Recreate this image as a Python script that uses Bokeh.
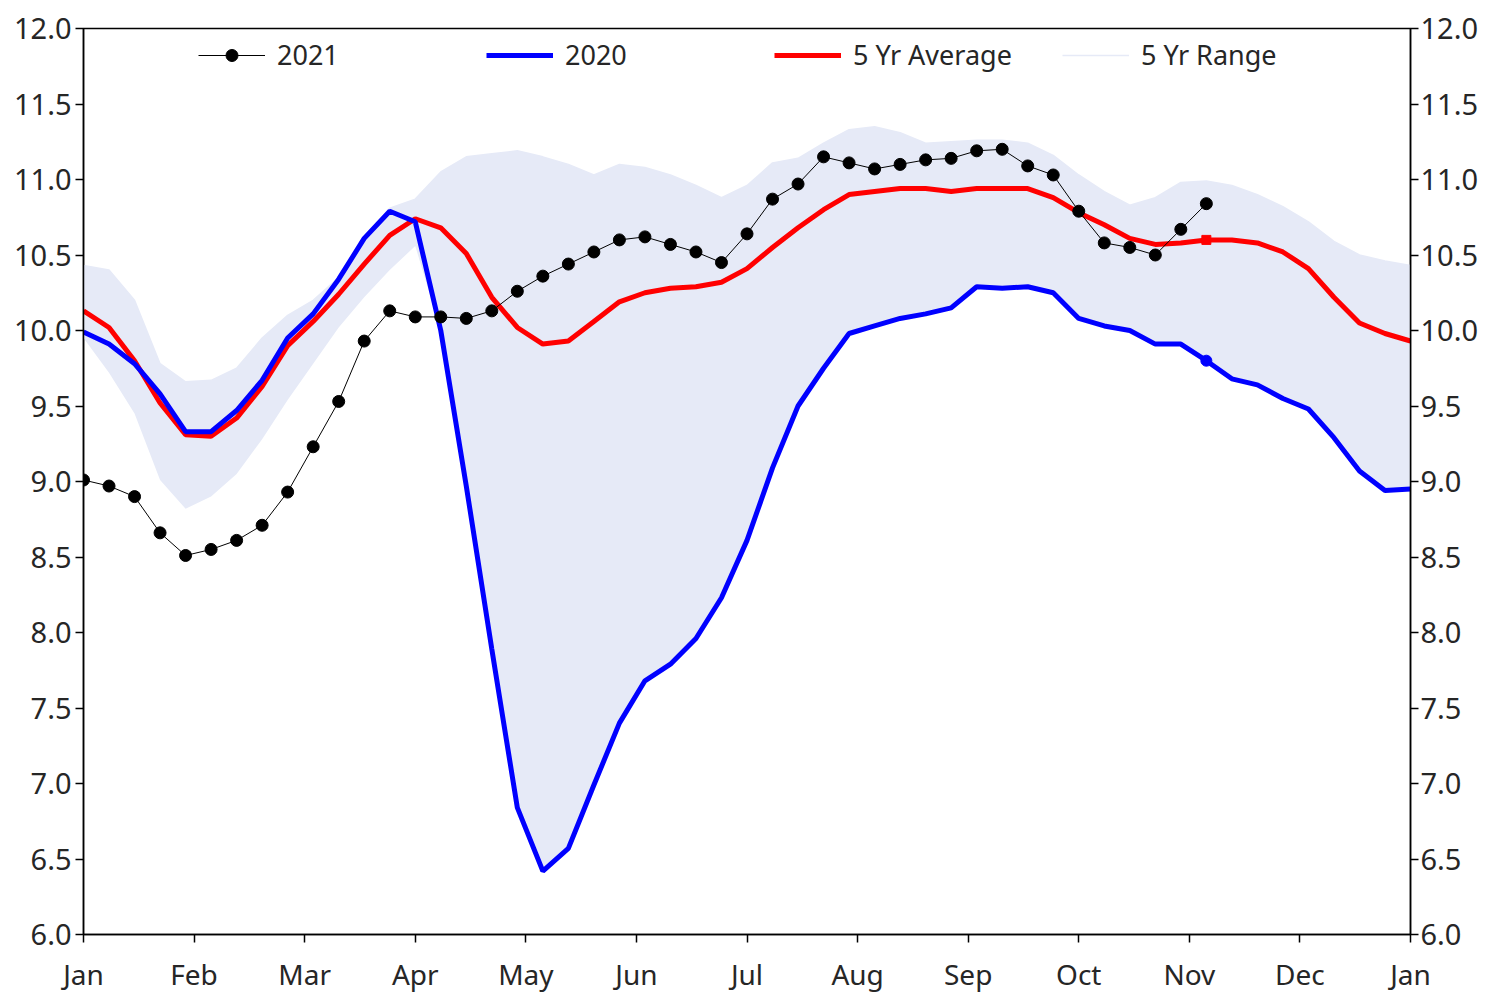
from bokeh.plotting import figure
from bokeh.models import Legend, LegendItem, LinearAxis, FixedTicker, Range1d, ColumnDataSource
from bokeh.embed import file_html
from bokeh.resources import INLINE

# ---------------- data ----------------
month_labels = ["Jan", "Feb", "Mar", "Apr", "May", "Jun", "Jul", "Aug",
                "Sep", "Oct", "Nov", "Dec", "Jan"]
weeks = list(range(53))  # week index 0..52

y2021 = [9.01, 8.97, 8.90, 8.66, 8.51, 8.55, 8.61, 8.71, 8.93, 9.23, 9.53, 9.93,
         10.13, 10.09, 10.09, 10.08, 10.13, 10.26, 10.36, 10.44, 10.52, 10.60,
         10.62, 10.57, 10.52, 10.45, 10.64, 10.87, 10.97, 11.15, 11.11, 11.07,
         11.10, 11.13, 11.14, 11.19, 11.20, 11.09, 11.03, 10.79, 10.58, 10.55,
         10.50, 10.67, 10.84]

y2020 = [9.99, 9.91, 9.78, 9.58, 9.33, 9.33, 9.47, 9.67, 9.95, 10.11, 10.34, 10.61,
         10.79, 10.72, 10.00, 8.97, 7.89, 6.84, 6.42, 6.57, 6.99, 7.40, 7.68, 7.79,
         7.96, 8.23, 8.61, 9.09, 9.50, 9.75, 9.98, 10.03, 10.08, 10.11, 10.15, 10.29,
         10.28, 10.29, 10.25, 10.08, 10.03, 10.00, 9.91, 9.91, 9.80, 9.68, 9.64,
         9.55, 9.48, 9.29, 9.07, 8.94, 8.95]

avg5 = [10.13, 10.02, 9.80, 9.52, 9.31, 9.30, 9.42, 9.63, 9.90, 10.06, 10.24, 10.44,
        10.63, 10.74, 10.68, 10.51, 10.22, 10.02, 9.91, 9.93, 10.06, 10.19, 10.25,
        10.28, 10.29, 10.32, 10.41, 10.55, 10.68, 10.80, 10.90, 10.92, 10.94, 10.94,
        10.92, 10.94, 10.94, 10.94, 10.88, 10.78, 10.70, 10.61, 10.57, 10.58, 10.60,
        10.60, 10.58, 10.52, 10.41, 10.22, 10.05, 9.98, 9.93]

range_low = [9.95, 9.72, 9.45, 9.01, 8.82, 8.90, 9.05, 9.28, 9.54, 9.78, 10.02, 10.22,
             10.40, 10.56, 10.00, 8.97, 7.89, 6.84, 6.42, 6.57, 6.99, 7.40, 7.68, 7.79,
             7.96, 8.23, 8.61, 9.09, 9.50, 9.75, 9.98, 10.03, 10.08, 10.11, 10.15, 10.29,
             10.28, 10.29, 10.25, 10.08, 10.03, 10.00, 9.91, 9.91, 9.80, 9.68, 9.64,
             9.55, 9.48, 9.29, 9.07, 8.94, 8.95]

range_high = [10.43, 10.40, 10.20, 9.78, 9.66, 9.67, 9.75, 9.95, 10.10, 10.20, 10.35,
              10.62, 10.81, 10.87, 11.05, 11.15, 11.17, 11.19, 11.15, 11.10, 11.03,
              11.10, 11.08, 11.03, 10.96, 10.88, 10.96, 11.11, 11.14, 11.24, 11.33,
              11.35, 11.31, 11.24, 11.25, 11.26, 11.26, 11.24, 11.16, 11.03, 10.92,
              10.83, 10.88, 10.98, 10.99, 10.96, 10.90, 10.82, 10.72, 10.59, 10.50,
              10.46, 10.43]

y_ticks = [6.0, 6.5, 7.0, 7.5, 8.0, 8.5, 9.0, 9.5, 10.0, 10.5, 11.0, 11.5, 12.0]

# ---------------- styling ----------------
FONT = "Noto Sans"
TEXT_COLOR = "#262626"
BAND = "#e6eaf7"

n_weeks = len(weeks) - 1
month_ticks = [i * n_weeks / 12 for i in range(13)]

p = figure(frame_width=1327, frame_height=906,
           x_range=Range1d(0, n_weeks), y_range=Range1d(6, 12),
           output_backend="svg", toolbar_location=None,
           min_border_left=83, min_border_right=72, min_border_top=28, min_border_bottom=58)
p.xgrid.visible = False
p.ygrid.visible = False
p.outline_line_color = "black"
p.outline_line_width = 1.5
p.background_fill_color = "white"
p.border_fill_color = "white"

src = ColumnDataSource(dict(x=weeks, y2020=y2020, avg=avg5, lo=range_low, hi=range_high))
src21 = ColumnDataSource(dict(x=weeks[:len(y2021)], y=y2021))
last = len(y2021) - 1

band = p.varea(x="x", y1="lo", y2="hi", source=src, fill_color=BAND)
band_edge = p.line(x="x", y="hi", source=src, line_color=BAND, line_width=1.5)
l_avg = p.line(x="x", y="avg", source=src, line_color="#ff0000", line_width=5)
l_20 = p.line(x="x", y="y2020", source=src, line_color="#0000ff", line_width=5)
p.scatter(x=[weeks[last]], y=[avg5[last]], marker="square", size=9,
          fill_color="#ff0000", line_color="#ff0000")
p.scatter(x=[weeks[last]], y=[y2020[last]], marker="circle", size=11,
          fill_color="#0000ff", line_color="#0000ff")
l_21 = p.line(x="x", y="y", source=src21, line_color="black", line_width=1)
s_21 = p.scatter(x="x", y="y", source=src21, marker="circle", size=12,
                 fill_color="black", line_color="black")

# axes
def style_axis(ax, size):
    ax.axis_line_color = "black"
    ax.axis_line_width = 1.5
    ax.major_tick_line_color = "black"
    ax.major_tick_line_width = 1.5
    ax.major_tick_out = 8
    ax.major_tick_in = 0
    ax.minor_tick_line_color = None
    ax.major_label_text_font = FONT
    ax.major_label_text_font_size = size
    ax.major_label_text_color = TEXT_COLOR

xa = p.xaxis[0]
xa.ticker = FixedTicker(ticks=month_ticks)
xa.major_label_overrides = {t: m for t, m in zip(month_ticks, month_labels)}
style_axis(xa, "28px")
xa.major_label_standoff = 12

ya = p.yaxis[0]
ya.ticker = FixedTicker(ticks=y_ticks)
ya.major_label_overrides = {t: f"{t:.1f}" for t in y_ticks}
style_axis(ya, "29px")
ya.major_label_standoff = 4

yr = LinearAxis(ticker=FixedTicker(ticks=y_ticks))
yr.major_label_overrides = {t: f"{t:.1f}" for t in y_ticks}
style_axis(yr, "29px")
yr.major_label_standoff = 2
p.add_layout(yr, "right")

legend = Legend(items=[LegendItem(label="2021", renderers=[l_21, s_21]),
                       LegendItem(label="2020", renderers=[l_20]),
                       LegendItem(label="5 Yr Average", renderers=[l_avg]),
                       LegendItem(label="5 Yr Range", renderers=[band_edge])],
                orientation="horizontal", location=(105, 851),
                glyph_width=67, glyph_height=30, label_standoff=12,
                label_width=200, spacing=9, padding=10,
                border_line_alpha=0, background_fill_alpha=0,
                label_text_font=FONT, label_text_font_size="27px",
                label_text_color=TEXT_COLOR)
p.add_layout(legend)

open("out.html", "w").write(file_html(p, INLINE))
